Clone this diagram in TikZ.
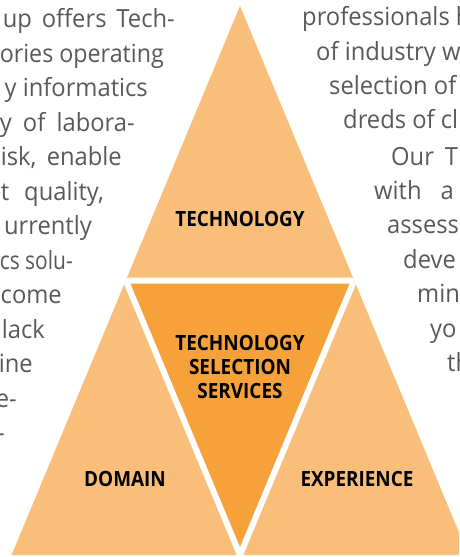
\documentclass[tikz,border=0pt]{standalone}
\usepackage{fontspec}
\usepackage{graphicx}
\setmainfont{Open Sans}[FakeStretch=0.9]
\newfontfamily\bodyfont{Open Sans}[FakeStretch=0.95]
\definecolor{lightorange}{HTML}{F9BE7A}
\definecolor{darkorange}{HTML}{F6A139}
\definecolor{bodygray}{HTML}{59595B}
\newcommand{\jline}[2]{\makebox[#1pt][s]{#2}}
\newcommand{\fitline}[2]{\resizebox{#1pt}{\height}{#2}}
\begin{document}
\begin{tikzpicture}[x=1pt,y=-1pt,
  body/.style={font=\bodyfont\fontsize{25}{30}\selectfont, text=bodygray, inner sep=0pt},
  tlabel/.style={font=\bfseries\fontsize{21}{24}\selectfont, text=black, inner sep=0pt, anchor=base}]
\useasboundingbox (0,0) rectangle (459,557);
\clip (0,0) rectangle (459,557);
% geometry
\coordinate (A) at (240,6);
\coordinate (B) at (11.6,555);
\coordinate (C) at (468.4,555);
\coordinate (MAB) at (125.8,280.5);
\coordinate (MAC) at (354.2,280.5);
\coordinate (MBC) at (240,555);
\fill[lightorange] (A) -- (B) -- (C) -- cycle;
\fill[darkorange] (MAB) -- (MAC) -- (MBC) -- cycle;
\begin{scope}
  \clip (A) -- (B) -- (C) -- cycle;
  \draw[white, line width=6pt, line join=miter] (MAB) -- (MAC) -- (MBC) -- cycle;
\end{scope}
% labels
\node[tlabel] (tech) at (240,226) {TECHNOLOGY};
\node[tlabel] (tss1) at (240,350) {TECHNOLOGY};
\node[tlabel] (tss2) at (240,374) {SELECTION};
\node[tlabel] (tss3) at (240,398) {SERVICES};
\node[tlabel] (dom) at (125,486) {DOMAIN};
\node[tlabel] (exp) at (357,486) {EXPERIENCE};
% left body text
\node[body, anchor=base east] (l1) at (175,27) {\jline{172}{up offers Tech-}};
\node[body, anchor=base east] (l2) at (164,62) {\fitline{164}{ories operating}};
\node[body, anchor=base east] (l3) at (148,96) {y informatics};
\node[body, anchor=base east] (l4) at (135,131) {\jline{135}{y of labora-}};
\node[body, anchor=base east] (l5) at (122,165) {\jline{121}{isk, enable}};
\node[body, anchor=base east] (l6) at (104,200) {\jline{103}{t quality,}};
\node[body, anchor=base east] (l7) at (92,234) {urrently};
\node[body, anchor=base east] (l8) at (73,269) {\fitline{73}{cs solu-}};
\node[body, anchor=base east] (l9) at (62,303) {come};
\node[body, anchor=base east] (l10) at (45,338) {lack};
\node[body, anchor=base east] (l11) at (33,372) {ine};
\node[body, anchor=base east] (l12) at (17,407) {e-};
\node[body, anchor=base east] (l13) at (5,441) {-};
% right body text
\node[body, anchor=base west] (r1) at (302,25) {professionals h};
\node[body, anchor=base west] (r2) at (316,60) {of industry w};
\node[body, anchor=base west] (r3) at (329,94) {selection of};
\node[body, anchor=base west] (r4) at (343,128) {dreds of cl};
\node[body, anchor=base west] (r5) at (391,165) {Our\hspace{11pt}T};
\node[body, anchor=base west] (r6) at (374,199) {with\hspace{19pt}a};
\node[body, anchor=base west] (r7) at (387,233) {assess};
\node[body, anchor=base west] (r8) at (403,268) {deve};
\node[body, anchor=base west] (r9) at (417,302) {min};
\node[body, anchor=base west] (r10) at (430,337) {yo};
\node[body, anchor=base west] (r11) at (447,371) {th};
\end{tikzpicture}
\end{document}
